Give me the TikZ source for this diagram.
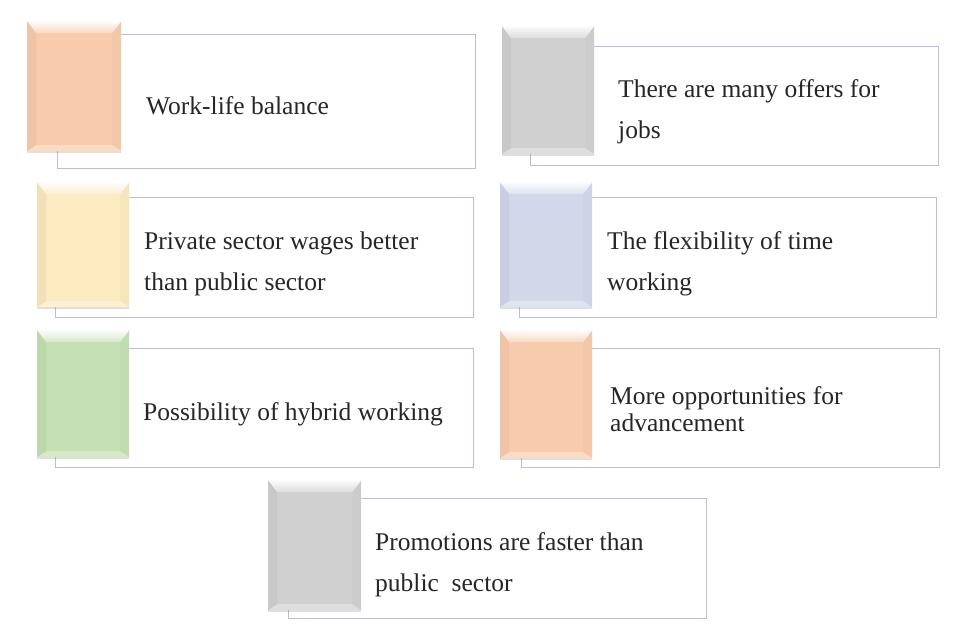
\documentclass[tikz,border=0pt]{standalone}
\usepackage{fontspec}
\setmainfont{Liberation Serif}
\usetikzlibrary{shadows}

\definecolor{peach}{HTML}{F8CBAD}
\definecolor{silver}{HTML}{D0D0D0}
\definecolor{cream}{HTML}{FCEAC0}
\definecolor{paleblue}{HTML}{D0D8EA}
\definecolor{palegreen}{HTML}{C5E0B4}
\definecolor{framec}{HTML}{B8BED8}
\definecolor{inkc}{HTML}{262626}

\tikzset{
  frame/.style={rectangle, draw=framec, line width=1.2pt, fill=white,
    anchor=north west, inner sep=0pt},
  % bevelled colour tab
  tab/.style={rectangle, anchor=north west, inner sep=0pt, fill=#1,
    drop shadow={opacity=0.25, shadow xshift=0pt, shadow yshift=-1.5pt},
    path picture={
      \path (path picture bounding box.north west) coordinate (pnw)
            (path picture bounding box.north east) coordinate (pne)
            (path picture bounding box.south west) coordinate (psw)
            (path picture bounding box.south east) coordinate (pse);
      \fill[#1!96!black] (pnw) -- ([shift={(9pt,-12pt)}]pnw)
            -- ([shift={(9pt,6pt)}]psw) -- (psw) -- cycle;
      \fill[#1!98!black] (pne) -- ([shift={(-9pt,-12pt)}]pne)
            -- ([shift={(-9pt,6pt)}]pse) -- (pse) -- cycle;
      \fill[#1!70!white] (psw) -- ([shift={(9pt,6pt)}]psw)
            -- ([shift={(-9pt,6pt)}]pse) -- (pse) -- cycle;
      \shade[top color=#1!8!white, bottom color=#1!75!white]
            (pnw) -- (pne) -- ([shift={(-9pt,-12pt)}]pne)
            -- ([shift={(9pt,-12pt)}]pnw) -- cycle;
    }},
  reasontext/.style={anchor=west, align=left, inner sep=0pt, text=inkc,
    font=\fontsize{25.5}{41}\selectfont}
}

\begin{document}
\begin{tikzpicture}[x=1pt, y=-1pt]
  \fill[white] (0,0) rectangle (957,634);
  \useasboundingbox (0,0) rectangle (957,634);

  % outlined text panels
  \node[frame, minimum width=418, minimum height=134] (f1) at (57,34) {};
  \node[frame, minimum width=408, minimum height=119] (f2) at (530,46) {};
  \node[frame, minimum width=418, minimum height=120] (f3) at (55,197) {};
  \node[frame, minimum width=417, minimum height=120] (f4) at (519,197) {};
  \node[frame, minimum width=418, minimum height=119] (f5) at (55,348) {};
  \node[frame, minimum width=418, minimum height=119] (f6) at (521,348) {};
  \node[frame, minimum width=418, minimum height=120] (f7) at (288,498) {};

  % colour tabs
  \node[tab=peach, minimum width=94, minimum height=130] (t1) at (27,21) {};
  \node[tab=silver, minimum width=92, minimum height=128] (t2) at (502,26) {};
  \node[tab=cream, minimum width=92, minimum height=125] (t3) at (37,182) {};
  \node[tab=paleblue, minimum width=92, minimum height=125] (t4) at (500,182) {};
  \node[tab=palegreen, minimum width=92, minimum height=127] (t5) at (37,330) {};
  \node[tab=peach, minimum width=92, minimum height=128] (t6) at (500,330) {};
  \node[tab=silver, minimum width=93, minimum height=130] (t7) at (268,480) {};

  % texts
  \node[reasontext] (l1) at (146,106) {Work-life balance};
  \node[reasontext] (l2) at (618,112) {There are many offers for\\jobs};
  \node[reasontext] (l3) at (144,263.5) {Private sector wages better\\than public sector};
  \node[reasontext] (l4) at (607,263.5) {The flexibility of time\\working};
  \node[reasontext] (l5) at (143,414) {Possibility of hybrid working};
  \node[reasontext, font=\fontsize{25.5}{27}\selectfont] (l6) at (610,409.5) {More opportunities for\\advancement};
  \node[reasontext] (l7) at (375,564.5) {Promotions are faster than\\public\ \ sector};
\end{tikzpicture}
\end{document}
